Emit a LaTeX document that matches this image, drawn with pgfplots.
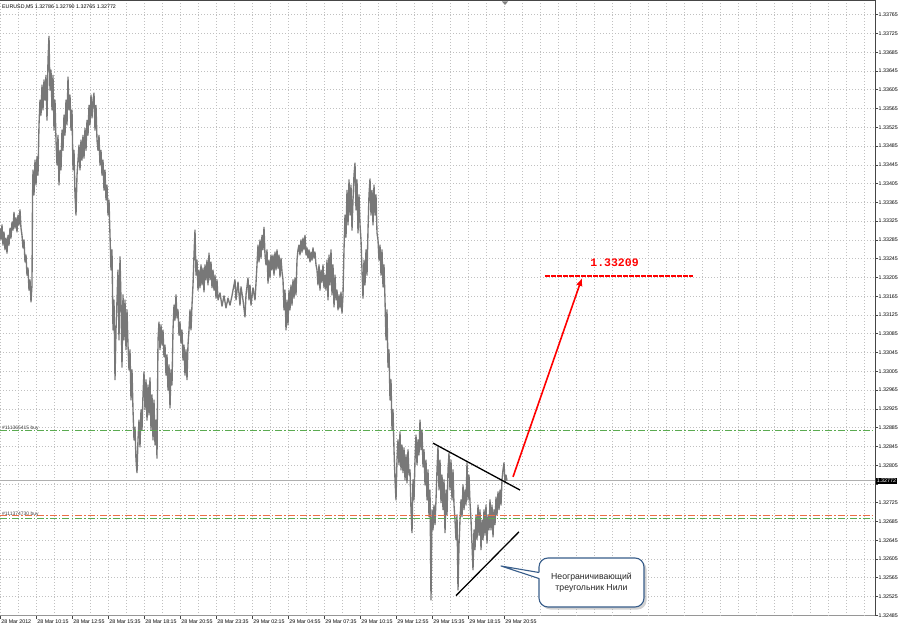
\documentclass[border=0pt]{standalone}
\usepackage{pgfplots}
\pgfplotsset{compat=1.18}
\usepackage{fontspec}
\setmainfont{Liberation Sans}
\newfontfamily\monofont{Liberation Mono}
\usetikzlibrary{arrows.meta}
\definecolor{barc}{RGB}{120,120,120}
\definecolor{gridc}{RGB}{192,192,192}
\definecolor{ordgreen}{RGB}{90,170,80}
\definecolor{ordred}{RGB}{235,110,70}
\definecolor{callblue}{RGB}{56,93,138}
\definecolor{cpline}{RGB}{175,175,175}
\definecolor{axc}{RGB}{70,70,70}
\begin{document}
\begin{tikzpicture}
\path[use as bounding box] (0pt,0pt) rectangle (899pt,630pt);
\begin{axis}[
  at={(0pt,14.2pt)}, anchor=south west,
  scale only axis, width=875pt, height=614.7pt,
  xmin=0, xmax=875, ymin=1.32484, ymax=1.33794,
  axis x line*=bottom, axis y line*=right,
  axis line style={-},
  x axis line style={draw={rgb,255:red,150;green,150;blue,150}, line width=0.8pt},
  y axis line style={draw=axc, line width=0.9pt},
  tick align=outside, major tick length=3pt, minor tick length=0pt,
  tick style={draw=axc, line width=0.6pt},
  xtick={0,36,...,504},
  xticklabels={28 Mar 2012,28 Mar 10:15,28 Mar 12:55,28 Mar 15:35,28 Mar 18:15,28 Mar 20:55,28 Mar 23:35,29 Mar 02:15,29 Mar 04:55,29 Mar 07:35,29 Mar 10:15,29 Mar 12:55,29 Mar 15:35,29 Mar 18:15,29 Mar 20:55},
  minor xtick={18,54,...,864},
  extra x ticks={540,576,...,864},
  extra x tick labels={},
  extra x tick style={major tick length=0pt, grid=major},
  ytick={1.32485,1.32525,1.32565,1.32605,1.32645,1.32685,1.32725,1.32765,1.32805,1.32845,1.32885,1.32925,1.32965,1.33005,1.33045,1.33085,1.33125,1.33165,1.33205,1.33245,1.33285,1.33325,1.33365,1.33405,1.33445,1.33485,1.33525,1.33565,1.33605,1.33645,1.33685,1.33725,1.33765},
  yticklabels={1.32485,1.32525,1.32565,1.32605,1.32645,1.32685,1.32725,,1.32805,1.32845,1.32885,1.32925,1.32965,1.33005,1.33045,1.33085,1.33125,1.33165,1.33205,1.33245,1.33285,1.33325,1.33365,1.33405,1.33445,1.33485,1.33525,1.33565,1.33605,1.33645,1.33685,1.33725,1.33765},
  grid=both,
  major grid style={draw=gridc, dash pattern=on 1pt off 2pt, line width=0.7pt},
  minor grid style={draw=gridc, dash pattern=on 1pt off 2pt, line width=0.7pt},
  xticklabel style={font=\fontsize{5.3}{6}\selectfont, anchor=north west, inner sep=0pt, xshift=1.2pt, yshift=-1.2pt},
  yticklabel style={font=\fontsize{5.3}{6}\selectfont, anchor=west, inner sep=0pt, xshift=0.5pt},
]
% current price line
\addplot[cpline, line width=0.7pt] coordinates {(0,1.32772) (875,1.32772)};
% price series
\addplot[barc, line width=1.35pt, line join=round] coordinates {
(0,1.33310)(1,1.33285)(2,1.33317)(3,1.33274)(4,1.33302)(5,1.33264)(6,1.33289)(7,1.33257)(8,1.33295)(9,1.33274)(10,1.33310)
(11,1.33289)(12,1.33323)(13,1.33306)(14,1.33344)(15,1.33310)(16,1.33332)(17,1.33302)(18,1.33338)(19,1.33317)(20,1.33349)
(21,1.33310)(22,1.33295)(23,1.33268)(24,1.33285)(25,1.33238)(26,1.33253)(27,1.33210)(28,1.33225)(29,1.33178)(30,1.33200)(31,1.33153)(32,1.33189)
(32.5,1.33370)(33,1.33434)(34,1.33381)(35,1.33455)(36,1.33402)(37,1.33462)(38,1.33423)
(39,1.33530)(40,1.33583)(41,1.33551)(42,1.33615)(43,1.33562)(44,1.33626)(45,1.33583)(46,1.33636)(47,1.33540)(48,1.33668)(49,1.33719)(50,1.33604)
(51,1.33647)(52,1.33562)(53,1.33636)(54,1.33519)(55,1.33583)
(56,1.33498)(57,1.33445)(58,1.33508)(59,1.33402)(60,1.33476)(61,1.33434)(62,1.33519)
(63,1.33476)(64,1.33551)(65,1.33508)(66,1.33583)(67,1.33530)(68,1.33632)(69,1.33562)(70,1.33594)(71,1.33519)
(72,1.33562)(73,1.33434)(74,1.33476)(75,1.33381)(76,1.33338)(77,1.33423)
(78,1.33455)(79,1.33487)(80,1.33434)(81,1.33498)(82,1.33455)(83,1.33508)(84,1.33459)(85,1.33523)(86,1.33476)(87,1.33540)
(88,1.33508)(89,1.33572)(90,1.33530)(91,1.33594)(92,1.33545)(93,1.33583)(94,1.33598)(95,1.33519)(96,1.33572)(97,1.33498)
(98,1.33476)(99,1.33508)(100,1.33445)(101,1.33476)(102,1.33423)(103,1.33455)(104,1.33391)(105,1.33434)(106,1.33370)(107,1.33402)(108,1.33338)(109,1.33370)
(110,1.33295)(111,1.33221)(112,1.33264)(113,1.33093)(114,1.33157)(115,1.32987)(116,1.33093)
(117,1.33157)(118,1.33221)(119,1.33072)(120,1.33249)(121,1.33157)(122,1.33014)(123,1.33168)
(124,1.33072)(125,1.33157)(126,1.33051)(127,1.33136)(128,1.33061)
(129,1.33008)(130,1.33051)(131,1.32944)(132,1.33008)(133,1.32923)
(134,1.32859)(135,1.32886)(136,1.32816)(137,1.32789)(138,1.32859)
(139,1.32901)(140,1.32844)(141,1.32923)(142,1.32880)
(143,1.32955)(144,1.33004)(145,1.32923)(146,1.32987)(147,1.32901)
(148,1.32976)(149,1.32912)(150,1.32991)(151,1.32880)(152,1.32955)(153,1.32859)(154,1.32944)(155,1.32848)(156,1.32901)(157,1.32820)
(158,1.33072)(159,1.33110)(160,1.33051)(161,1.33104)(162,1.33061)(163,1.33093)(164,1.33036)
(165,1.33061)(166,1.32997)(167,1.33040)(168,1.32965)(169,1.33019)(170,1.32927)(171,1.33008)(172,1.32976)
(173,1.33093)(174,1.33146)(175,1.33114)(176,1.33168)(177,1.33119)
(178,1.33136)(179,1.33082)(180,1.33110)(181,1.33065)
(182,1.33093)(183,1.33029)(184,1.33061)(185,1.32997)(186,1.33051)(187,1.32987)(188,1.33061)
(189,1.33093)(190,1.33136)(191,1.33093)(192,1.33146)
(193,1.33189)(194,1.33253)(195,1.33306)(196,1.33210)(197,1.33242)
(198,1.33178)(199,1.33221)(200,1.33183)(201,1.33232)(202,1.33189)(203,1.33225)(204,1.33174)(205,1.33232)(206,1.33200)(207,1.33242)(208,1.33189)(209,1.33257)(210,1.33200)
(211,1.33238)(212,1.33183)(213,1.33221)(214,1.33178)(215,1.33210)(216,1.33161)(217,1.33200)
(218,1.33157)(220,1.33172)(222,1.33144)(224,1.33166)(226,1.33140)(228,1.33161)(230,1.33146)(232,1.33166)
(233,1.33178)(235,1.33200)(236,1.33157)(238,1.33195)(240,1.33146)(241,1.33185)(243,1.33157)(245,1.33121)(246,1.33168)(248,1.33204)(249,1.33157)
(250,1.33189)(251,1.33146)(253,1.33183)(255,1.33157)(256,1.33193)
(257,1.33232)(258,1.33274)(259,1.33238)(260,1.33285)(261,1.33246)(262,1.33295)(263,1.33264)(264,1.33312)(265,1.33253)
(266,1.33232)(267,1.33264)(268,1.33193)(269,1.33242)(270,1.33204)(271,1.33253)(272,1.33221)
(273,1.33253)(274,1.33210)(275,1.33259)(276,1.33221)(277,1.33264)(278,1.33225)(279,1.33253)(280,1.33206)(281,1.33246)(282,1.33217)
(283,1.33200)(284,1.33136)(285,1.33178)(286,1.33093)(287,1.33157)(288,1.33104)
(289,1.33178)(290,1.33136)(291,1.33189)(292,1.33146)(293,1.33200)(294,1.33161)(295,1.33204)(296,1.33168)
(297,1.33242)(298,1.33264)(299,1.33274)(300,1.33253)(301,1.33285)(302,1.33259)(303,1.33289)(304,1.33264)(305,1.33295)(306,1.33253)
(307,1.33268)(308,1.33246)(309,1.33264)(310,1.33238)(311,1.33259)(312,1.33242)(313,1.33268)(314,1.33246)(315,1.33259)(316,1.33232)
(317,1.33221)(318,1.33189)(319,1.33232)(320,1.33178)(321,1.33221)(322,1.33195)(323,1.33232)(324,1.33183)(325,1.33210)
(326,1.33178)(327,1.33242)(328,1.33157)(329,1.33253)(330,1.33189)(331,1.33264)(332,1.33168)(333,1.33232)(334,1.33142)(335,1.33210)(336,1.33157)
(337,1.33178)(338,1.33136)(339,1.33168)(340,1.33140)(341,1.33174)(342,1.33129)(343,1.33168)
(344,1.33264)(345,1.33338)(346,1.33291)(347,1.33391)(348,1.33317)(349,1.33413)(350,1.33338)(351,1.33402)(352,1.33306)
(353,1.33370)(354,1.33423)(355,1.33449)(356,1.33349)(357,1.33413)(358,1.33300)(359,1.33381)(360,1.33317)
(361,1.33285)(362,1.33221)(363,1.33161)(364,1.33242)(365,1.33189)(366,1.33264)(367,1.33210)
(368,1.33306)(369,1.33381)(370,1.33415)(371,1.33338)(372,1.33391)(373,1.33317)(374,1.33402)(375,1.33338)(376,1.33381)(377,1.33300)
(378,1.33285)(379,1.33242)(380,1.33274)(381,1.33210)(382,1.33264)(383,1.33185)(384,1.33232)
(385,1.33157)(386,1.33072)(387,1.33136)(388,1.33014)
(389,1.33051)(390,1.32944)(391,1.32987)(392,1.32880)(393,1.32923)
(394,1.32838)(395,1.32774)(396,1.32731)(397,1.32816)
(398,1.32859)(399,1.32806)(400,1.32876)(401,1.32795)(402,1.32848)(403,1.32789)
(404,1.32842)(405,1.32774)(406,1.32827)(407,1.32767)(408,1.32838)(409,1.32784)
(410,1.32795)(411,1.32710)(412,1.32661)(413,1.32774)(414,1.32731)
(415,1.32816)(416,1.32869)(417,1.32806)(418,1.32859)(419,1.32827)(420,1.32901)(421,1.32838)(422,1.32880)(423,1.32801)
(424,1.32838)(425,1.32763)(426,1.32816)(427,1.32731)(428,1.32795)(429,1.32695)
(430,1.32752)(431,1.32518)(432,1.32710)
(433,1.32667)(434,1.32720)(435,1.32678)(436,1.32731)
(437,1.32795)(438,1.32844)(439,1.32752)(440,1.32816)(441,1.32725)(442,1.32784)
(443,1.32710)(444,1.32774)(445,1.32661)(446,1.32752)(447,1.32699)
(448,1.32795)(449,1.32831)(450,1.32752)(451,1.32816)(452,1.32731)(453,1.32795)
(454,1.32720)(455,1.32688)
(456,1.32646)(457,1.32699)(458,1.32539)(459,1.32635)(460,1.32688)
(461,1.32731)(462,1.32695)(463,1.32763)(464,1.32710)(465,1.32752)(466,1.32720)
(467,1.32810)(468,1.32731)(469,1.32784)(470,1.32725)
(471,1.32688)(472,1.32635)(473,1.32582)(474,1.32667)(475,1.32625)
(476,1.32699)(477,1.32646)(478,1.32720)(479,1.32656)(480,1.32710)(481,1.32625)(482,1.32688)(483,1.32646)
(484,1.32710)(485,1.32656)(486,1.32720)(487,1.32639)(488,1.32699)(489,1.32667)
(490,1.32731)(491,1.32667)(492,1.32720)(493,1.32652)(494,1.32710)(495,1.32678)(496,1.32737)
(497,1.32699)(498,1.32748)(499,1.32710)(500,1.32752)(501,1.32720)
(502,1.32774)(503,1.32795)(504,1.32810)(505,1.32767)(506,1.32784)(507,1.32772)
};
% order lines
\addplot[ordgreen, line width=0.9pt, dash pattern=on 7pt off 2pt on 1.5pt off 2pt] coordinates {(0,1.32878) (875,1.32878)};
\addplot[ordred, line width=0.9pt, dash pattern=on 7pt off 2pt on 1.5pt off 2pt] coordinates {(0,1.32698) (875,1.32698)};
\addplot[ordgreen, line width=0.9pt, dash pattern=on 7pt off 2pt on 1.5pt off 2pt] coordinates {(0,1.32691) (875,1.32691)};
\node[anchor=west, font=\fontsize{5}{6}\selectfont, text=black!75, inner sep=0pt] at (axis cs:2,1.32884) {\#111365415 buy};
\node[anchor=west, font=\fontsize{5}{6}\selectfont, text=black!75, inner sep=0pt] at (axis cs:2,1.32700) {\#111374730 buy};
% triangle
\addplot[black, line width=1.3pt] coordinates {(433,1.32852) (520,1.32752)};
\addplot[black, line width=1.3pt] coordinates {(456,1.32527) (519,1.32663)};
% target
\addplot[red, line width=1.6pt, -{Latex[length=8pt,width=6.5pt]}] coordinates {(513,1.32780) (582,1.33204)};
\addplot[red, line width=1.8pt, dash pattern=on 4.5pt off 1.5pt] coordinates {(545,1.33209) (693,1.33209)};
\node[text=red, font=\monofont\bfseries\fontsize{11.5}{12}\selectfont, inner sep=0pt] at (axis cs:614.5,1.33236) {1.33209};
\coordinate (cp) at (axis cs:875,1.32772);
\end{axis}
\begin{scope}[x=1pt,y=1pt]
% frame top
\draw[axc, line width=1.4pt] (0,629.3) -- (875.5,629.3);
\fill[gray] (502,628.5) -- (508,628.5) -- (505,625) -- cycle;
% header
\node[anchor=west, font=\fontsize{5.3}{6}\selectfont, inner sep=0pt] at (2,623.5) {EURUSD,M5 1.32786 1.32790 1.32765 1.32772};
% current price box
\node[anchor=west, fill=black, text=white, font=\fontsize{5.3}{6}\selectfont, inner sep=1pt] at ([xshift=0.6pt]cp) {1.32772};
% callout
\fill[black!30, opacity=0.6, rounded corners=9pt] (541.5,20.5) rectangle (646.5,69.5);
\draw[callblue, line width=1.1pt, fill=white, rounded corners=9pt] (539,23) rectangle (644,72);
\fill[white] (540.5,57.5) -- (501,64) -- (540.5,51.5) -- cycle;
\draw[callblue, line width=1.1pt, line join=round] (539,57.5) -- (501,64) -- (539,51.5);
\node[align=center, font=\fontsize{8.7}{11}\selectfont, text=black!85] at (591.5,47.8) {Неограничивающий\\треугольник Нили};
\end{scope}
\end{tikzpicture}
\end{document}
